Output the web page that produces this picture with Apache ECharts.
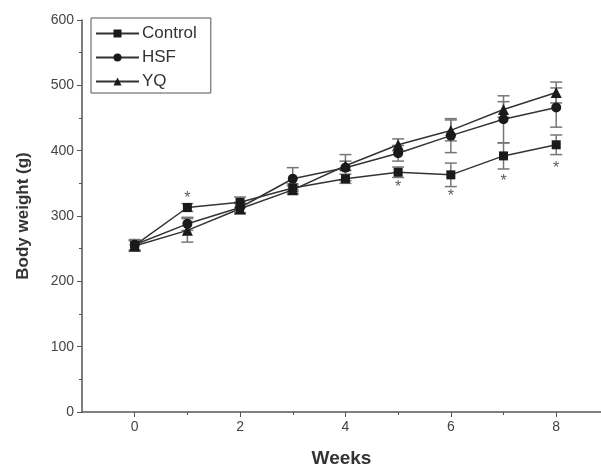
<!DOCTYPE html>
<html>
<head>
<meta charset="utf-8">
<script src="https://cdn.jsdelivr.net/npm/echarts@6/dist/echarts.min.js"></script>
<style>
  html, body { margin: 0; padding: 0; background: #fff; }
  #chart { width: 601px; height: 467px; }
</style>
</head>
<body>
<div id="chart"></div>
<script>
// 数据
const weeks = [0, 1, 2, 3, 4, 5, 6, 7, 8]
const controlMean = [255, 313, 321, 343, 357, 367, 363, 392, 409]
const controlErr = [8, 6, 8, 6, 7, 8, 18, 20, 15]
const hsfMean = [256, 288, 313, 357, 374, 396, 423, 448, 466]
const hsfErr = [8, 10, 8, 17, 20, 12, 26, 36, 30]
const yqMean = [254, 278, 311, 340, 377, 409, 431, 463, 489]
const yqErr = [8, 18, 8, 6, 7, 9, 16, 12, 16]
const starWeeks = [1, 5, 6, 7, 8]
const starValues = [333, 350, 336, 359, 378]
const xLabels = [0, 2, 4, 6, 8]
const xMinorTicks = [1, 3, 5, 7]

const toPoints = (mean) => weeks.map((w, i) => [w, mean[i]])
const toBars = (mean, err) => weeks.map((w, i) => [w, mean[i] - err[i], mean[i] + err[i]])

// 误差线
const errorBarSeries = (name, mean, err) => ({
  name: name + '-err',
  type: 'custom',
  data: toBars(mean, err),
  z: 1,
  silent: true,
  renderItem: (params, api) => {
    const lo = api.coord([api.value(0), api.value(1)])
    const hi = api.coord([api.value(0), api.value(2)])
    const half = 6
    const style = { stroke: '#777', lineWidth: 1.5 }
    return {
      type: 'group',
      children: [
        { type: 'line', shape: { x1: lo[0], y1: lo[1], x2: hi[0], y2: hi[1] }, style },
        { type: 'line', shape: { x1: lo[0] - half, y1: lo[1], x2: lo[0] + half, y2: lo[1] }, style },
        { type: 'line', shape: { x1: hi[0] - half, y1: hi[1], x2: hi[0] + half, y2: hi[1] }, style }
      ]
    }
  }
})

const lineSeries = (name, mean, symbol, size) => ({
  name,
  type: 'line',
  data: toPoints(mean),
  symbol,
  symbolSize: size,
  showAllSymbol: true,
  z: 3,
  lineStyle: { color: '#333', width: 1.5 },
  itemStyle: { color: '#1a1a1a', borderWidth: 0 }
})

const chart = echarts.init(document.getElementById('chart'))
chart.setOption({
  animation: false,
  textStyle: { fontFamily: 'Liberation Sans, Arial, sans-serif' },
  grid: { left: 82, right: 0, top: 20, bottom: 55, outerBoundsMode: 'none' },
  legend: {
    orient: 'vertical',
    left: 91,
    top: 18,
    data: ['Control', 'HSF', 'YQ'],
    itemWidth: 43,
    itemHeight: 10,
    itemGap: 7,
    padding: [7, 14, 3, 4],
    borderColor: '#555',
    borderWidth: 1,
    textStyle: { fontSize: 17, color: '#333', padding: [0, 0, 0, -2] }
  },
  xAxis: [
    {
      type: 'value',
      min: -1,
      max: 8.85,
      interval: 1,
      name: 'Weeks',
      nameLocation: 'middle',
      nameGap: 37,
      nameTextStyle: { fontSize: 19, fontWeight: 'bold', color: '#333' },
      splitLine: { show: false },
      axisLine: { onZero: false, lineStyle: { color: '#555', width: 1.5 } },
      axisTick: { customValues: xLabels, length: 5, lineStyle: { color: '#555' } },
      axisLabel: { customValues: xLabels, fontSize: 14, color: '#444', margin: 8 }
    },
    {
      type: 'value',
      position: 'bottom',
      min: -1,
      max: 8.85,
      interval: 1,
      splitLine: { show: false },
      axisLine: { show: false, onZero: false },
      axisTick: { customValues: xMinorTicks, length: 3, lineStyle: { color: '#555' } },
      axisLabel: { show: false }
    }
  ],
  yAxis: {
    type: 'value',
    min: 0,
    max: 600,
    interval: 100,
    name: 'Body weight (g)',
    nameLocation: 'middle',
    nameGap: 50,
    nameTextStyle: { fontSize: 17, fontWeight: 'bold', color: '#333' },
    splitLine: { show: false },
    axisLine: { show: true, onZero: false, lineStyle: { color: '#555', width: 1.5 } },
    axisTick: { length: 5, lineStyle: { color: '#555' } },
    minorTick: { show: true, splitNumber: 2, length: 3, lineStyle: { color: '#555' } },
    axisLabel: { fontSize: 14, color: '#444', margin: 8 }
  },
  series: [
    errorBarSeries('Control', controlMean, controlErr),
    errorBarSeries('HSF', hsfMean, hsfErr),
    errorBarSeries('YQ', yqMean, yqErr),
    lineSeries('Control', controlMean, 'rect', 9),
    lineSeries('HSF', hsfMean, 'circle', 10),
    lineSeries('YQ', yqMean, 'triangle', 11),
    {
      name: 'stars',
      type: 'scatter',
      data: starWeeks.map((w, i) => [w, starValues[i]]),
      symbolSize: 1,
      itemStyle: { color: 'rgba(0,0,0,0)' },
      label: {
        show: true,
        position: 'inside',
        offset: [0, 4],
        formatter: '*',
        fontSize: 16,
        color: '#333'
      },
      silent: true
    }
  ]
})
</script>
</body>
</html>
